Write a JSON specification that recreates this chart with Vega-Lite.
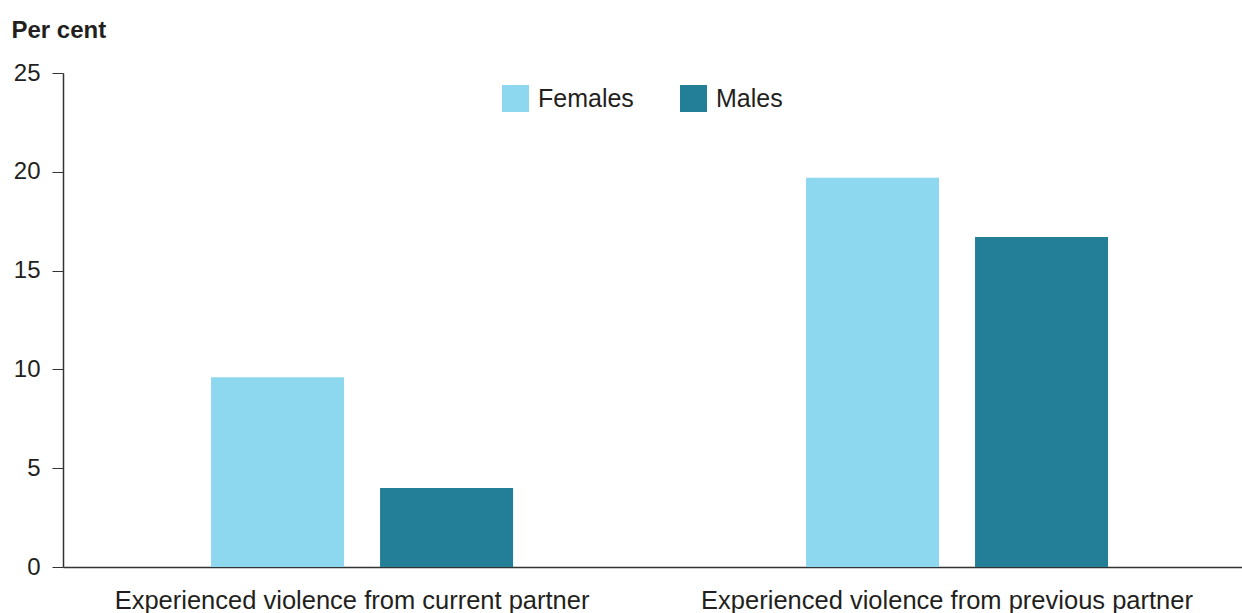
{
  "$schema": "https://vega.github.io/schema/vega-lite/v6.json",
  "autosize": {"type": "none"},
  "padding": {"left": 63, "top": 73, "right": 0, "bottom": 46},
  "width": 1179,
  "height": 494,
  "background": "white",
  "config": {
    "view": {"stroke": null},
    "font": "Liberation Sans",
    "axis": {"grid": false, "domainColor": "#333333", "tickColor": "#333333", "labelColor": "#231f20", "titleColor": "#231f20", "labelFont": "Liberation Sans", "titleFont": "Liberation Sans"}
  },
  "data": {
    "values": [
      {"category": "Experienced violence from current partner", "sex": "Females", "value": 9.6},
      {"category": "Experienced violence from current partner", "sex": "Males", "value": 4.0},
      {"category": "Experienced violence from previous partner", "sex": "Females", "value": 19.7},
      {"category": "Experienced violence from previous partner", "sex": "Males", "value": 16.7}
    ]
  },
  "mark": {"type": "bar"},
  "encoding": {
    "x": {
      "field": "category",
      "type": "nominal",
      "sort": null,
      "scale": {"paddingInner": 0.4924, "paddingOuter": 0.237, "align": 0.525},
      "axis": {"title": null, "labelAngle": 0, "ticks": false, "labelFontSize": 25.5, "labelPadding": 21, "labelOffset": -10, "labelLimit": 0, "domainWidth": 1.5}
    },
    "xOffset": {
      "field": "sex",
      "type": "nominal",
      "scale": {"paddingInner": 0.213, "paddingOuter": 0}
    },
    "y": {
      "field": "value",
      "type": "quantitative",
      "scale": {"domain": [0, 25], "nice": false},
      "axis": {
        "title": "Per cent",
        "titleAngle": 0,
        "titleAlign": "left",
        "titleBaseline": "alphabetic",
        "titleX": -52,
        "titleY": -36,
        "titleFontSize": 24,
        "titleFontWeight": "bold",
        "values": [0, 5, 10, 15, 20, 25],
        "tickSize": 11,
        "labelFontSize": 24,
        "labelPadding": 12,
        "domainWidth": 1.5
      }
    },
    "color": {
      "field": "sex",
      "type": "nominal",
      "scale": {"domain": ["Females", "Males"], "range": ["#8dd7ef", "#237f98"]},
      "legend": {
        "title": null,
        "orient": "none",
        "legendX": 439,
        "legendY": 12,
        "direction": "horizontal",
        "padding": 0,
        "symbolType": "square",
        "symbolSize": 729,
        "symbolStrokeWidth": 0,
        "labelFontSize": 25,
        "labelColor": "#231f20",
        "labelOffset": 9,
        "columnPadding": 46
      }
    }
  }
}
